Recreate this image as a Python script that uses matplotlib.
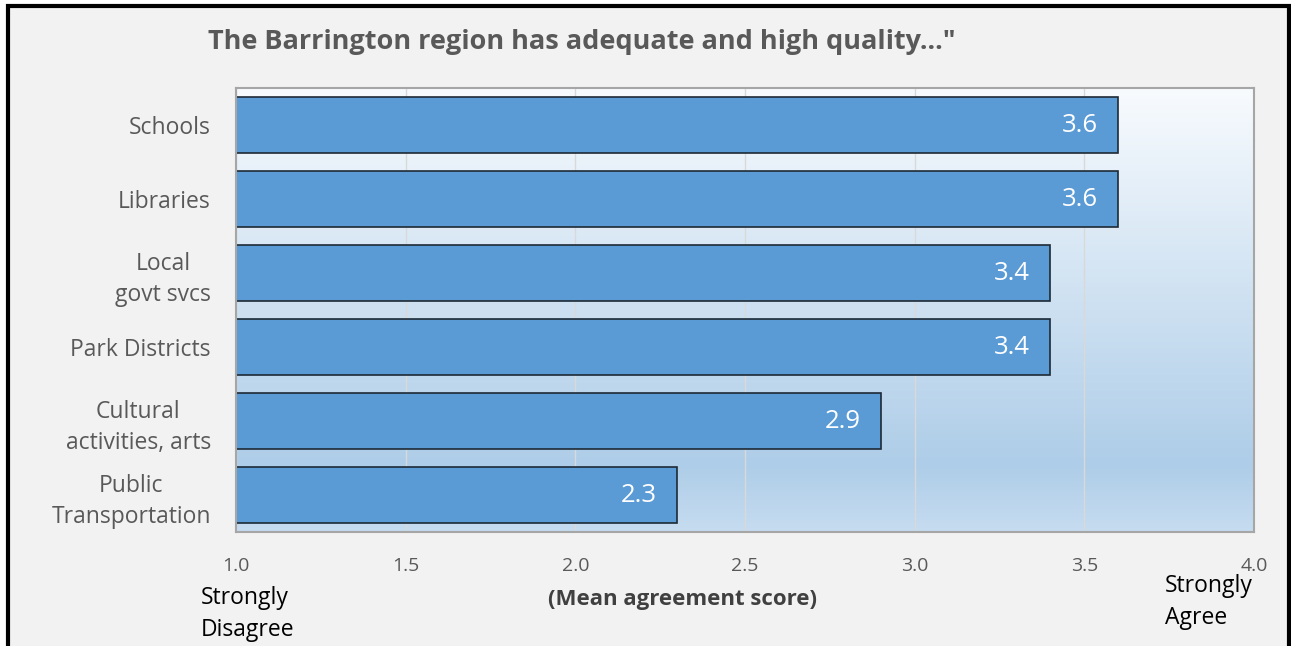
import matplotlib
matplotlib.use("Agg")
import matplotlib.pyplot as plt
import numpy as np
from matplotlib.patches import Rectangle
from matplotlib.colors import LinearSegmentedColormap

plt.rcParams['font.family'] = ['Open Sans', 'DejaVu Sans']

categories = ["Schools", "Libraries", "Local\ngovt svcs", "Park Districts",
              "Cultural\nactivities, arts", "Public\nTransportation"]
values = [3.6, 3.6, 3.4, 3.4, 2.9, 2.3]
value_labels = ["3.6", "3.6", "3.4", "3.4", "2.9", "2.3"]
xticks = [1.0, 1.5, 2.0, 2.5, 3.0, 3.5, 4.0]
title = 'The Barrington region has adequate and high quality..."'
xlabel = "(Mean agreement score)"

W, H = 1291, 646
fig = plt.figure(figsize=(W / 100, H / 100), dpi=100, facecolor='white')

def fx(px):
    return px / W

def fy(py):
    return 1 - py / H

# outer frame
fig.patches.append(Rectangle((fx(8), fy(660)), fx(1289) - fx(8), fy(6) - fy(660),
                             transform=fig.transFigure, facecolor='#f2f2f2',
                             edgecolor='black', linewidth=3.0, zorder=-10))

ax = fig.add_axes([fx(236), fy(532), fx(1254) - fx(236), fy(88) - fy(532)])
ax.set_facecolor('none')
ax.set_zorder(1)

# gradient background
cmap = LinearSegmentedColormap.from_list('bg', [(0.0, '#f8fbfe'), (0.85, '#aecde8'), (1.0, '#c6dcf0')])
grad = np.linspace(0, 1, 256).reshape(-1, 1)
ax.imshow(grad, cmap=cmap, aspect='auto', extent=[1.0, 4.0, 5.5, -0.5], zorder=0,
          interpolation='bicubic')

y = np.arange(len(categories))
ax.barh(y, [v - 1.0 for v in values], left=1.0, height=0.77, color='#5b9bd5',
        edgecolor='#1e2a36', linewidth=1.2, zorder=3)

for yi, v, lab in zip(y, values, value_labels):
    ax.annotate(lab, xy=(v, yi), xytext=(-14.5, 0), textcoords='offset points',
                ha='right', va='center', color='white', fontsize=18.5, zorder=4)

ax.set_xlim(1.0, 4.0)
ax.set_ylim(5.5, -0.5)
ax.set_xticks(xticks)
ax.set_xticklabels([f"{t:.1f}" for t in xticks], color='#595959', fontsize=14)
ax.set_yticks(y)
ax.set_yticklabels(categories, color='#595959', fontsize=16.5, ha='right',
                   multialignment='center', linespacing=1.4)
ax.tick_params(axis='x', length=0, pad=18)
ax.tick_params(axis='y', length=0, pad=18)
ax.grid(axis='x', color='#d9d9d9', linewidth=1.0, zorder=1)
ax.set_axisbelow(True)
for s in ax.spines.values():
    s.set_color('#a6a6a6')
    s.set_linewidth(1.5)
    s.set_zorder(5)

fig.text(fx(582), fy(42), title, ha='center', va='center', fontsize=19.5,
         fontweight='bold', color='#595959')
fig.text(fx(683), fy(600), xlabel, ha='center', va='center', fontsize=16,
         fontweight='bold', color='#404040')
fig.text(fx(201), fy(614), "Strongly\nDisagree", ha='left', va='center', fontsize=16.5,
         color='black', linespacing=1.4)
fig.text(fx(1165), fy(602), "Strongly\nAgree", ha='left', va='center', fontsize=16.5,
         color='black', linespacing=1.4)

fig.savefig('out.png', dpi=100, facecolor='white')
